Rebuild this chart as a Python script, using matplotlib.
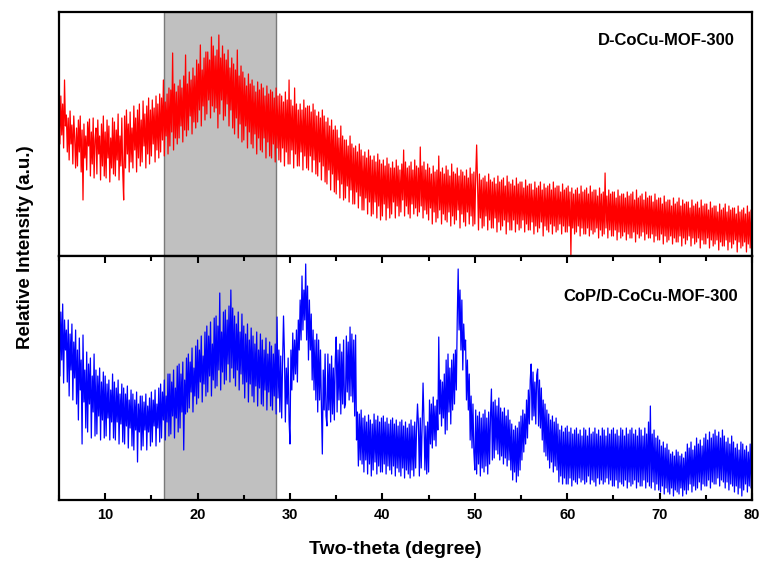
import numpy as np
import matplotlib
matplotlib.use('Agg')
import matplotlib.pyplot as plt
from matplotlib.ticker import MultipleLocator

# XRD intensities (a.u.), 0.1 degree steps from 5 to 80 (one line per degree)
red_counts = [
    148,112,160,121,152,108,176,130,141,104,
    138,96,145,112,131,92,140,118,88,128,
    90,136,104,140,84,126,56,132,98,120,
    86,134,110,137,80,124,92,138,78,116,
    128,82,136,102,120,76,132,90,140,80,
    124,78,136,98,130,74,118,88,138,82,
    134,80,126,96,142,76,120,90,138,84,
    56,140,88,146,102,132,84,144,94,128,
    88,150,106,138,84,146,98,152,90,136,
    94,155,110,142,88,150,102,158,92,146,
    100,156,112,148,94,160,106,152,98,162,
    104,158,116,176,100,154,120,162,102,168,
    110,166,124,203,106,172,118,164,112,170,
    118,176,130,168,114,180,126,201,120,172,
    126,184,140,176,122,188,134,180,128,196,
    134,192,146,211,130,186,150,198,136,204,
    142,204,156,196,138,219,150,210,144,200,
    148,206,128,221,142,198,156,210,136,202,
    140,196,152,206,130,188,146,198,128,192,
    122,186,138,206,118,180,132,190,114,184,
    116,178,130,170,108,182,124,172,112,176,
    108,170,122,164,102,174,118,166,106,172,
    104,168,118,160,98,170,114,162,100,166,
    98,164,112,158,94,168,108,160,96,162,
    94,160,108,154,90,164,104,156,92,176,
    92,156,106,150,88,168,102,152,90,146,
    90,152,104,146,86,156,100,148,88,150,
    86,150,100,144,84,152,96,146,82,140,
    80,144,94,138,76,146,90,140,74,134,
    72,138,86,130,66,136,82,126,64,130,
    62,126,76,118,58,130,72,120,56,116,
    58,116,70,110,54,120,66,112,52,108,
    52,110,64,104,48,112,60,106,46,100,
    46,104,58,98,42,106,54,100,40,96,
    42,100,54,94,38,102,50,96,36,92,
    40,96,52,90,36,98,48,92,38,88,
    42,94,54,88,38,96,50,90,40,86,
    44,92,56,106,40,94,50,88,42,90,
    38,94,52,86,42,96,48,90,40,88,
    44,109,50,90,38,94,46,86,42,92,
    36,88,48,82,32,90,44,84,34,86,
    38,100,46,84,32,88,42,82,36,90,
    34,86,44,80,30,92,40,84,32,82,
    36,88,46,80,28,86,42,84,34,80,
    30,86,44,78,32,88,40,82,30,84,
    32,80,111,72,26,82,38,76,28,78,
    30,80,40,74,26,82,36,76,28,74,
    28,78,38,72,24,80,34,74,26,76,
    30,78,36,70,22,80,34,74,26,72,
    26,76,36,70,24,78,32,72,26,74,
    28,74,36,68,24,76,32,70,26,72,
    26,72,34,66,22,74,30,68,24,70,
    28,74,34,66,20,72,30,68,26,70,
    24,72,32,66,22,74,30,68,24,70,
    26,70,32,64,22,72,30,66,24,68,
    24,70,30,64,1,68,28,62,22,66,
    24,68,30,62,20,70,28,64,22,66,
    22,68,28,62,20,70,26,64,22,66,
    24,66,28,60,18,68,26,62,20,64,
    22,83,28,60,18,66,26,62,20,64,
    20,64,26,58,16,66,24,60,18,62,
    20,62,24,58,16,64,22,60,18,62,
    18,64,24,56,14,66,22,58,18,60,
    20,62,24,56,16,64,22,58,18,60,
    18,60,22,54,14,62,20,56,16,58,
    16,58,22,52,12,60,20,54,14,56,
    16,56,20,50,12,58,18,52,14,54,
    14,58,20,50,10,56,18,52,12,54,
    16,54,20,48,10,56,18,50,12,52,
    14,54,18,48,8,56,16,50,12,52,
    12,52,18,46,8,54,16,48,10,50,
    12,50,16,44,6,52,14,46,10,48,
    10,52,16,44,6,50,14,46,8,48,
    12,48,16,42,4,50,14,44,8,46,
    10,48,14,42,4,50,12,44,8,46,
    18,
]
blue_counts = [
    203,124,188,140,196,117,180,150,170,118,
    180,104,166,130,176,100,158,122,170,96,
    150,80,162,110,140,56,165,98,130,72,
    148,68,136,96,142,62,124,88,146,64,
    130,66,124,84,132,60,118,80,128,62,
    124,64,116,82,120,60,110,78,126,62,
    118,60,112,78,120,56,106,76,116,58,
    112,56,106,74,114,52,100,72,110,54,
    106,50,100,70,108,38,96,68,104,50,
    104,54,98,70,106,50,94,68,102,54,
    108,58,100,74,110,54,96,72,112,58,
    116,62,108,80,120,60,104,78,126,64,
    126,66,118,84,130,62,112,82,134,68,
    136,72,126,88,138,50,120,86,142,88,
    146,92,138,108,152,88,132,104,154,96,
    160,102,150,118,164,98,144,116,168,104,
    174,108,164,124,178,104,156,120,182,112,
    184,114,174,130,207,110,168,128,188,116,
    190,120,180,136,194,118,210,132,192,122,
    184,114,176,130,188,110,168,126,186,116,
    174,102,166,118,176,98,160,116,172,104,
    164,98,156,114,168,94,150,112,166,96,
    160,94,150,110,162,90,146,108,158,94,
    154,90,146,104,156,86,183,102,150,88,
    144,82,138,184,146,78,132,96,142,80,
    56,150,110,167,120,160,126,170,118,180,
    150,200,160,224,170,210,180,236,160,214,
    140,200,150,186,120,170,110,160,100,166,
    88,160,100,150,94,46,130,90,146,84,
    74,146,90,136,78,144,86,132,80,140,
    163,88,150,100,156,86,148,96,160,92,
    96,164,108,158,100,173,104,166,98,160,
    84,165,60,88,34,86,40,90,36,82,
    28,84,40,78,26,85,36,80,24,76,
    30,86,38,80,26,84,34,78,28,82,
    28,84,36,78,26,82,34,76,30,80,
    26,82,34,76,24,80,32,74,28,78,
    24,80,32,74,22,78,30,72,26,76,
    22,80,30,74,24,78,32,72,96,76,
    24,82,32,76,117,80,30,74,26,78,
    28,100,56,96,52,103,60,94,54,100,
    70,163,86,120,74,118,82,126,66,140,
    70,146,88,132,76,140,90,146,96,150,
    110,180,231,170,210,150,200,130,176,150,
    160,100,140,90,126,60,104,52,96,48,
    30,90,26,84,36,88,24,82,32,86,
    28,90,34,82,26,88,36,84,111,40,
    98,42,100,50,94,46,102,40,92,44,
    88,36,92,42,84,34,90,40,80,30,
    76,20,70,28,74,18,72,24,78,30,
    84,40,90,48,86,56,100,62,110,76,
    120,136,80,128,84,118,76,125,131,74,
    120,72,112,60,100,48,96,44,90,40,
    86,32,80,38,84,28,78,34,82,30,
    76,18,70,24,74,16,68,22,72,16,
    74,16,68,22,72,14,66,20,70,18,
    72,16,66,22,70,18,64,20,72,16,
    70,18,64,24,72,16,66,20,68,18,
    72,14,66,22,70,16,64,20,72,16,
    70,18,64,22,72,16,66,20,70,14,
    72,14,66,20,70,12,64,18,72,16,
    70,14,64,20,72,12,66,18,70,14,
    72,16,66,20,70,12,64,18,72,14,
    70,14,64,20,72,12,66,18,78,14,
    94,12,66,18,70,10,62,16,64,10,
    60,8,54,14,58,6,52,12,56,8,
    50,6,46,12,48,4,44,10,50,8,
    48,6,44,12,46,4,42,10,48,6,
    56,10,52,16,58,8,50,14,54,10,
    62,12,56,18,60,10,54,16,62,14,
    66,14,60,20,68,12,62,18,66,16,
    70,16,64,22,68,14,62,20,70,18,
    64,12,58,18,62,10,56,16,64,14,
    58,8,52,14,56,6,50,12,58,4,
    56,10,50,16,54,8,48,14,56,12,
    40,
]
labels = ['D-CoCu-MOF-300', 'CoP/D-CoCu-MOF-300']
shade = (16.4, 28.5)

plt.rcParams['font.family'] = ['Liberation Sans', 'DejaVu Sans']
plt.rcParams['font.weight'] = 'bold'

fig = plt.figure(figsize=(7.64, 5.65), dpi=100)
ax1 = fig.add_axes([0.0772, 0.5469, 0.9071, 0.4319])
ax2 = fig.add_axes([0.0772, 0.1150, 0.9071, 0.4319])

series = [(ax1, red_counts, 'red', labels[0], 0.975, 0.885),
          (ax2, blue_counts, 'blue', labels[1], 0.980, 0.836)]
for ax, counts, col, lab, tx, ty in series:
    x = np.linspace(5, 80, len(counts))
    ax.axvspan(shade[0], shade[1], facecolor='#c0c0c0', edgecolor='#7a7a7a', lw=1, zorder=0)
    ax.plot(x, counts, color=col, lw=0.9, zorder=2)
    ax.set_xlim(5, 80)
    ax.set_ylim(0, 244)
    ax.set_yticks([])
    for s in ax.spines.values():
        s.set_linewidth(1.6)
    ax.text(tx, ty, lab, transform=ax.transAxes, ha='right', va='center',
            fontsize=12, fontweight='bold')

ax1.tick_params(axis='x', which='both', bottom=False, labelbottom=False)
ax2.xaxis.set_major_locator(MultipleLocator(10))
ax2.xaxis.set_minor_locator(MultipleLocator(5))
ax2.tick_params(axis='x', which='both', direction='in', top=True, width=1.5, labelsize=10.5, pad=6)
ax2.tick_params(axis='x', which='major', length=5)
ax2.tick_params(axis='x', which='minor', length=3.5)

fig.text(0.517, 0.028, 'Two-theta (degree)', ha='center', va='center', fontsize=14, fontweight='bold')
fig.text(0.033, 0.563, 'Relative Intensity (a.u.)', ha='center', va='center', rotation=90,
         fontsize=13.5, fontweight='bold')

fig.savefig('out.png', dpi=100)
